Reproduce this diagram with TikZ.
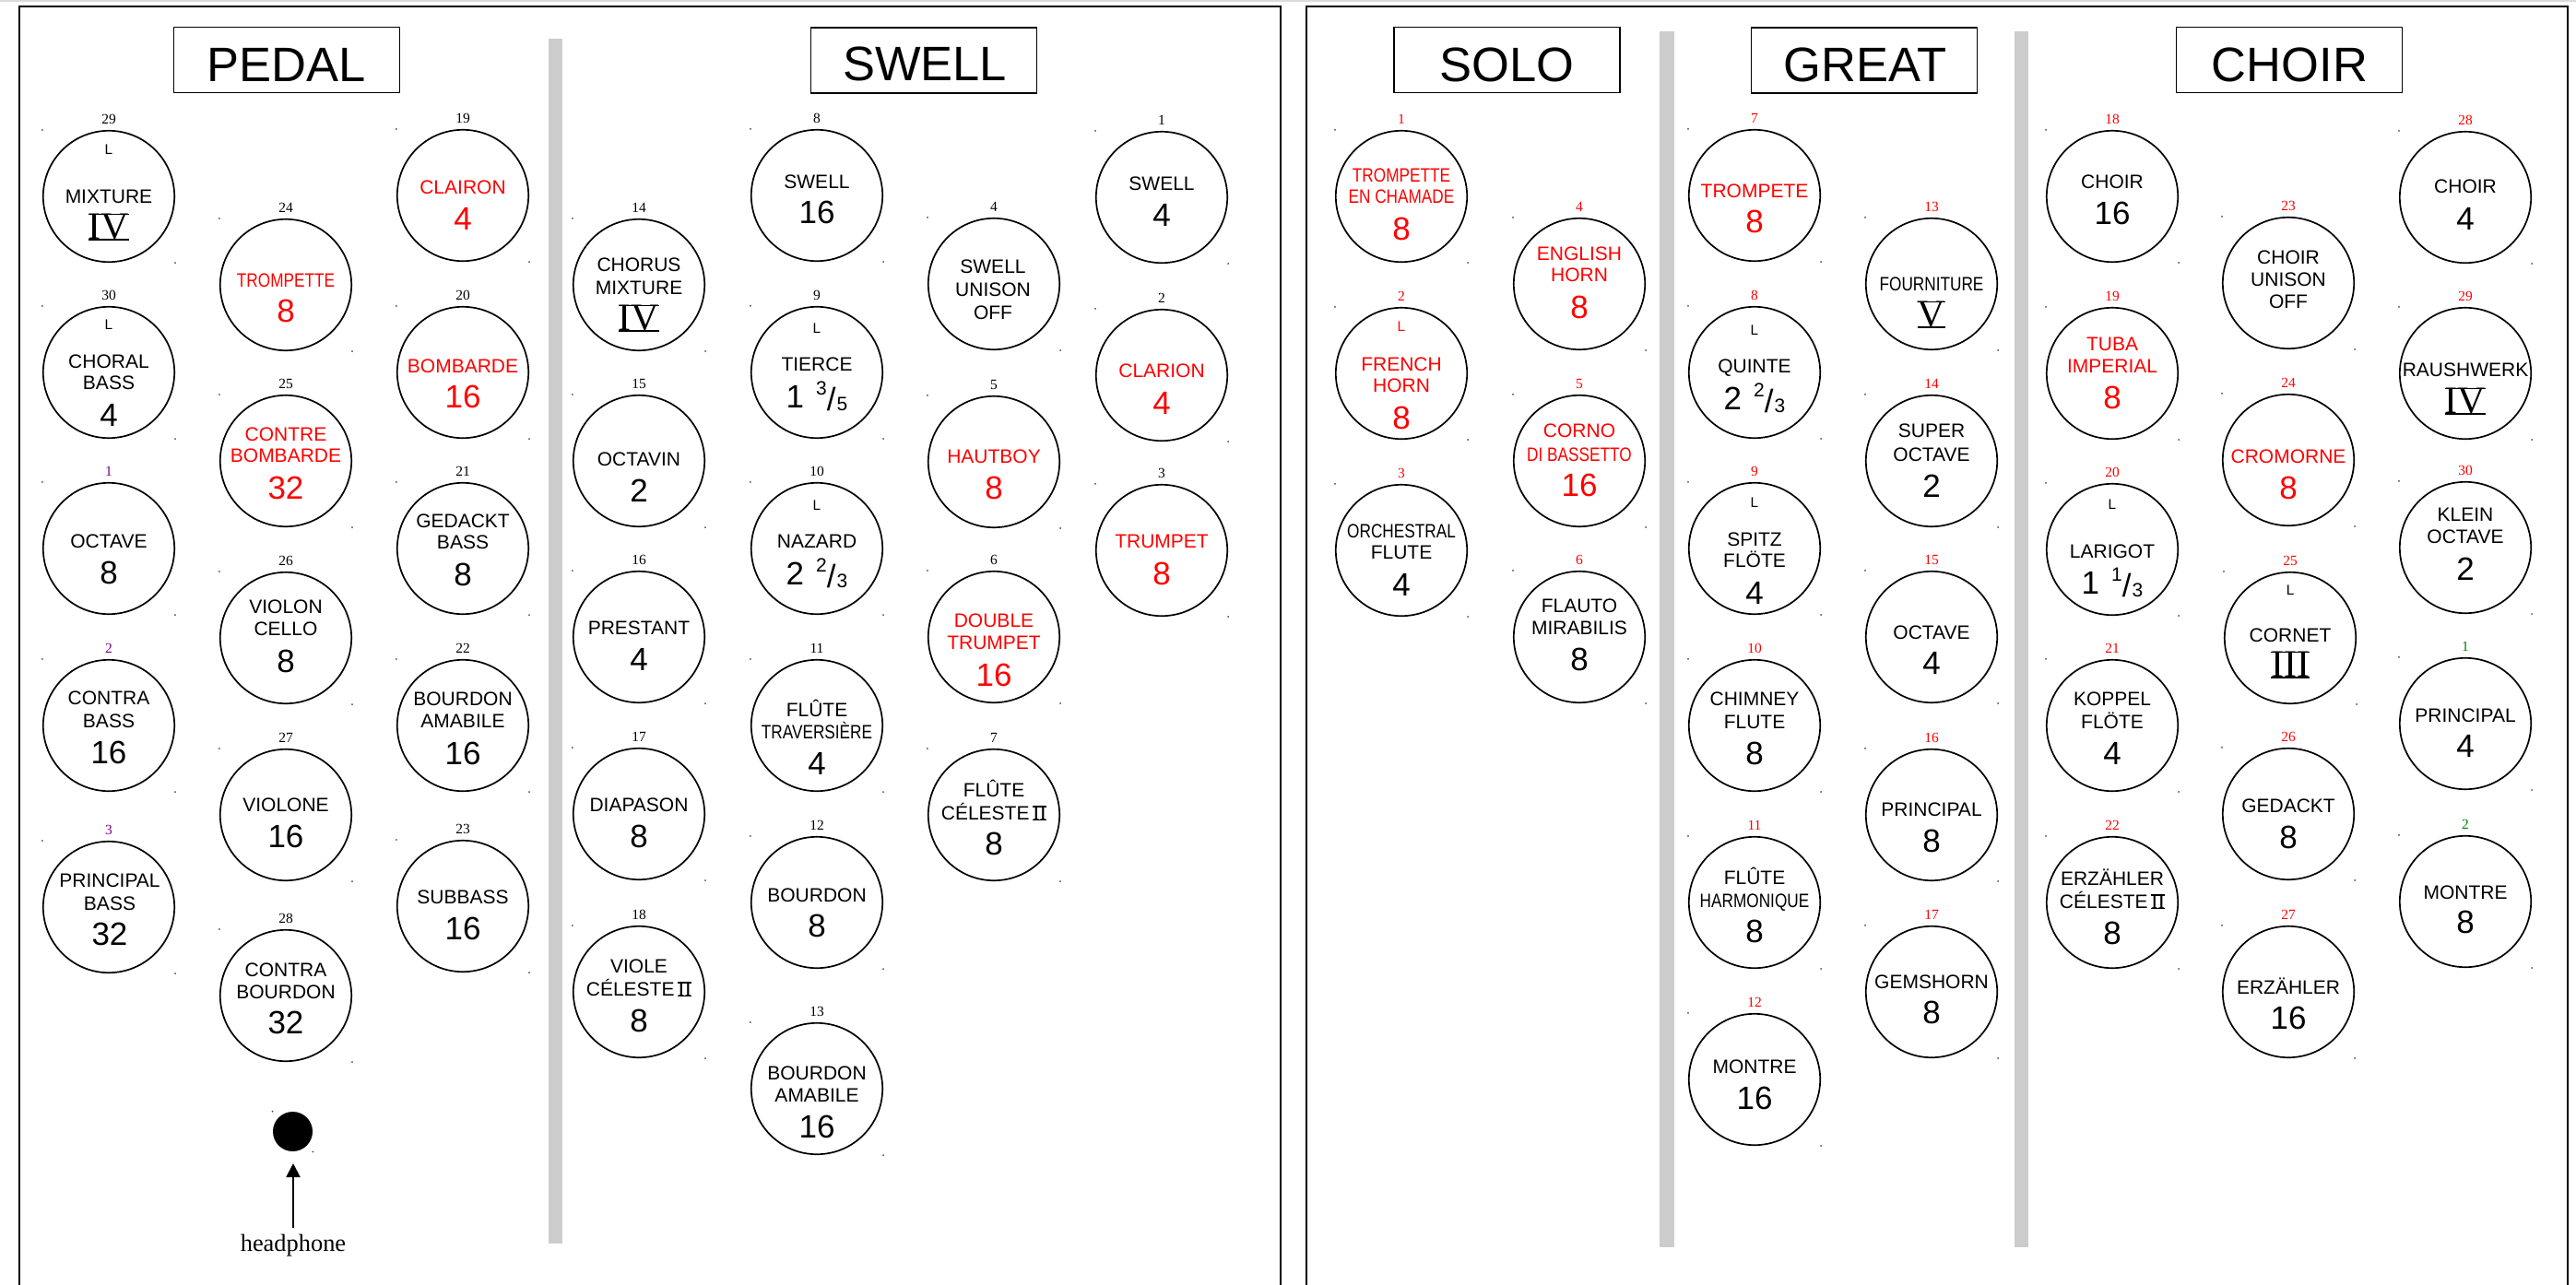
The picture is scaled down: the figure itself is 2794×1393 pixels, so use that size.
\documentclass[tikz,border=0pt]{standalone}
\usepackage{fontspec}
\setmainfont{Liberation Serif}
\newfontfamily\sansf{Liberation Sans}
\usetikzlibrary{arrows.meta}
\definecolor{stopred}{RGB}{255,0,0}
\definecolor{labpurple}{RGB}{128,0,128}
\definecolor{labgreen}{RGB}{0,128,0}
\definecolor{bargray}{RGB}{204,204,204}
\definecolor{dotc}{RGB}{70,70,70}
\definecolor{edgegray}{RGB}{218,218,218}
\newsavebox\rombox
\newcommand\barred[1]{\sbox\rombox{#1}\rlap{\rule[-0.35pt]{\wd\rombox}{0.75pt}}\rlap{\rule[\dimexpr\ht\rombox-0.4pt\relax]{\wd\rombox}{0.75pt}}\usebox\rombox}
\newcommand\smallII{\,\barred{\rmfamily\fontsize{11.3}{12}\selectfont II}}
\newcommand\frc[3]{#1\hspace{6.5pt}\raisebox{7pt}{\fontsize{10.5}{12}\selectfont #2}\raisebox{-1.5pt}{/}\kern0.6pt\raisebox{-1.5pt}{\fontsize{10.5}{12}\selectfont #3}}
\newcommand\cond[1]{\scalebox{0.82}[1]{#1}}
\newcommand\knob[5]{%
  \node[knob] (#1) at (#2,#3) {};
  \node[lab,text=#5] (#1-n) at (#2,#3-84) {#4};
  \fill[dotc] (#1.west |- #1.north) circle[radius=1];
  \fill[dotc] (#1.east |- #1.south) circle[radius=1];
}
\tikzset{
  knob/.style={circle,draw,line width=0.85pt,minimum size=71.2pt,inner sep=0pt},
  lab/.style={font=\fontsize{7.75}{8}\selectfont,inner sep=0pt,text height=5.2pt,text depth=0pt},
  nm/.style={font=\sansf\fontsize{10.5}{12}\selectfont,inner sep=0pt,text height=7.5pt,text depth=0pt},
  num/.style={font=\sansf\fontsize{17.5}{20}\selectfont,inner sep=0pt,text height=12.5pt,text depth=0pt},
  ltr/.style={font=\sansf\fontsize{7.7}{8}\selectfont,inner sep=0pt,text height=5.5pt,text depth=0pt},
  rom/.style={font=\fontsize{21}{24}\selectfont,inner sep=0pt,text height=13.9pt,text depth=0pt},
  hdrbox/.style={draw,line width=0.9pt,minimum width=122.5pt,minimum height=35.5pt,inner sep=0pt},
  hdr/.style={font=\sansf\fontsize{26.25}{30}\selectfont,inner sep=0pt,text height=18.8pt,text depth=0pt},
  frame/.style={draw,line width=1pt},
  rd/.style={text=stopred}
}
\begin{document}
\begin{tikzpicture}[x=0.5pt,y=-0.5pt]
\useasboundingbox (0,0) rectangle (2794,1393);
% faint top edge
\fill[edgegray] (0,0) rectangle (2794,1.5);
% frames
\draw[frame] (20.5,1420) -- (20.5,7) -- (1389,7) -- (1389,1420);
\draw[frame] (1417,1420) -- (1417,7) -- (2785,7) -- (2785,1420);
% grey dividers
\fill[bargray] (595,42) rectangle (610,1349);
\fill[bargray] (1800,34) rectangle (1816,1353);
\fill[bargray] (2185,34) rectangle (2200,1353);
% headers
\node[hdrbox] (hpedal) at (311,65) {};
\node[hdr] (hpedalt) at (311,69.5) {PEDAL};
\node[hdrbox] (hswell) at (1002,65.5) {};
\node[hdr] (hswellt) at (1003,69) {SWELL};
\node[hdrbox] (hsolo) at (1634.5,65) {};
\node[hdr] (hsolot) at (1634.5,69.5) {SOLO};
\node[hdrbox] (hgreat) at (2022,65.5) {};
\node[hdr] (hgreatt) at (2023,69.5) {GREAT};
\node[hdrbox] (hchoir) at (2483,65) {};
\node[hdr] (hchoirt) at (2483.5,69.5) {CHOIR};

% ================= PEDAL =================
\knob{pd29}{118}{213}{29}{black}
\node[ltr] (pd29L) at (118,162) {L};
\node[nm] (pd29a) at (118,213) {MIXTURE};
\node[rom] (pd29b) at (118,246) {\barred{IV}};
\knob{pd30}{118}{404}{30}{black}
\node[ltr] (pd30L) at (118,352) {L};
\node[nm] (pd30a) at (118,392) {CHORAL};
\node[nm] (pd30b) at (118,415) {BASS};
\node[num] (pd30c) at (118,450) {4};
\knob{pd1}{118}{595}{1}{labpurple}
\node[nm] (pd1a) at (118,587) {OCTAVE};
\node[num] (pd1c) at (118,621) {8};
\knob{pd2}{118}{787}{2}{labpurple}
\node[nm] (pd2a) at (118,757) {CONTRA};
\node[nm] (pd2b) at (118,782) {BASS};
\node[num] (pd2c) at (118,816) {16};
\knob{pd3}{118}{984}{3}{labpurple}
\node[nm] (pd3a) at (119,955) {PRINCIPAL};
\node[nm] (pd3b) at (119,980) {BASS};
\node[num] (pd3c) at (119,1013) {32};
\knob{pd24}{310}{309}{24}{black}
\node[nm,rd] (pd24a) at (310,304) {\cond{TROMPETTE}};
\node[num,rd] (pd24c) at (310,337) {8};
\knob{pd25}{310}{500}{25}{black}
\node[nm,rd] (pd25a) at (310,471) {CONTRE};
\node[nm,rd] (pd25b) at (310,494) {BOMBARDE};
\node[num,rd] (pd25c) at (310,529) {32};
\knob{pd26}{310}{692}{26}{black}
\node[nm] (pd26a) at (310,658) {VIOLON};
\node[nm] (pd26b) at (310,682) {CELLO};
\node[num] (pd26c) at (310,717) {8};
\knob{pd27}{310}{884}{27}{black}
\node[nm] (pd27a) at (310,873) {VIOLONE};
\node[num] (pd27c) at (310,907) {16};
\knob{pd28}{310}{1080}{28}{black}
\node[nm] (pd28a) at (310,1052) {CONTRA};
\node[nm] (pd28b) at (310,1076) {BOURDON};
\node[num] (pd28c) at (310,1109) {32};
\knob{pd19}{502}{212}{19}{black}
\node[nm,rd] (pd19a) at (502,203) {CLAIRON};
\node[num,rd] (pd19c) at (502,237) {4};
\knob{pd20}{502}{404}{20}{black}
\node[nm,rd] (pd20a) at (502,397) {BOMBARDE};
\node[num,rd] (pd20c) at (502,430) {16};
\knob{pd21}{502}{595}{21}{black}
\node[nm] (pd21a) at (502,565) {GEDACKT};
\node[nm] (pd21b) at (502,588) {BASS};
\node[num] (pd21c) at (502,623) {8};
\knob{pd22}{502}{787}{22}{black}
\node[nm] (pd22a) at (502,758) {BOURDON};
\node[nm] (pd22b) at (502,782) {AMABILE};
\node[num] (pd22c) at (502,817) {16};
\knob{pd23}{502}{983}{23}{black}
\node[nm] (pd23a) at (502,973) {SUBBASS};
\node[num] (pd23c) at (502,1007) {16};
% headphone
\node[circle,fill,minimum size=21.5pt,inner sep=0pt] (hp) at (317.5,1227.5) {};
\fill[dotc] (hp.west |- hp.north) circle[radius=1];
\fill[dotc] (hp.east |- hp.south) circle[radius=1];
\node[font=\fontsize{13.2}{14}\selectfont,inner sep=0pt] (hptext) at (318,1351) {headphone};
\coordinate (hptip) at (318,1262);
\draw[line width=1pt,-{Triangle[length=7.5pt,width=7.5pt]}] ([yshift=3.5pt]hptext.north) -- (hptip);

% ================= SWELL =================
\knob{sw14}{693}{309}{14}{black}
\node[nm] (sw14a) at (693,287) {CHORUS};
\node[nm] (sw14b) at (693,312) {MIXTURE};
\node[rom] (sw14c) at (693,345) {\barred{IV}};
\knob{sw15}{693}{500}{15}{black}
\node[nm] (sw15a) at (693,498) {OCTAVIN};
\node[num] (sw15c) at (693,532) {2};
\knob{sw16}{693}{691}{16}{black}
\node[nm] (sw16a) at (693,681) {PRESTANT};
\node[num] (sw16c) at (693,715) {4};
\knob{sw17}{693}{883}{17}{black}
\node[nm] (sw17a) at (693,873) {DIAPASON};
\node[num] (sw17c) at (693,907) {8};
\knob{sw18}{693}{1076}{18}{black}
\node[nm] (sw18a) at (693,1048) {VIOLE};
\node[nm] (sw18b) at (693,1073) {CÉLESTE\smallII};
\node[num] (sw18c) at (693,1107) {8};
\knob{sw8}{886}{212}{8}{black}
\node[nm] (sw8a) at (886,197) {SWELL};
\node[num] (sw8c) at (886,230) {16};
\knob{sw9}{886}{404}{9}{black}
\node[ltr] (sw9L) at (886,356) {L};
\node[nm] (sw9a) at (886,395) {TIERCE};
\node[num] (sw9c) at (886,430) {\frc{1}{3}{5}};
\knob{sw10}{886}{595}{10}{black}
\node[ltr] (sw10L) at (886,548) {L};
\node[nm] (sw10a) at (886,587) {NAZARD};
\node[num] (sw10c) at (886,622) {\frc{2}{2}{3}};
\knob{sw11}{886}{787}{11}{black}
\node[nm] (sw11a) at (886,770) {FLÛTE};
\node[nm] (sw11b) at (886,794) {\cond{TRAVERSIÈRE}};
\node[num] (sw11c) at (886,828) {4};
\knob{sw12}{886}{979}{12}{black}
\node[nm] (sw12a) at (886,971) {BOURDON};
\node[num] (sw12c) at (886,1004) {8};
\knob{sw13}{886}{1181}{13}{black}
\node[nm] (sw13a) at (886,1164) {BOURDON};
\node[nm] (sw13b) at (886,1188) {AMABILE};
\node[num] (sw13c) at (886,1222) {16};
\knob{sw4}{1078}{308}{4}{black}
\node[nm] (sw4a) at (1077,289) {SWELL};
\node[nm] (sw4b) at (1077,314) {UNISON};
\node[nm] (sw4c) at (1077,339) {OFF};
\knob{sw5}{1078}{501}{5}{black}
\node[nm,rd] (sw5a) at (1078,495) {HAUTBOY};
\node[num,rd] (sw5c) at (1078,529) {8};
\knob{sw6}{1078}{691}{6}{black}
\node[nm,rd] (sw6a) at (1078,673) {DOUBLE};
\node[nm,rd] (sw6b) at (1078,697) {TRUMPET};
\node[num,rd] (sw6c) at (1078,732) {16};
\knob{sw7}{1078}{884}{7}{black}
\node[nm] (sw7a) at (1078,857) {FLÛTE};
\node[nm] (sw7b) at (1078,882) {CÉLESTE\smallII};
\node[num] (sw7c) at (1078,915) {8};
\knob{sw1}{1260}{214}{1}{black}
\node[nm] (sw1a) at (1260,199) {SWELL};
\node[num] (sw1c) at (1260,233) {4};
\knob{sw2}{1260}{407}{2}{black}
\node[nm,rd] (sw2a) at (1260,402) {CLARION};
\node[num,rd] (sw2c) at (1260,437) {4};
\knob{sw3}{1260}{597}{3}{black}
\node[nm,rd] (sw3a) at (1260,587) {TRUMPET};
\node[num,rd] (sw3c) at (1260,622) {8};

% ================= SOLO =================
\knob{so1}{1520}{213}{1}{stopred}
\node[nm,rd] (so1a) at (1520,190) {\cond{TROMPETTE}};
\node[nm,rd] (so1b) at (1520,213) {\cond{EN CHAMADE}};
\node[num,rd] (so1c) at (1520,248) {8};
\knob{so2}{1520}{405}{2}{stopred}
\node[ltr,rd] (so2L) at (1520,354) {L};
\node[nm,rd] (so2a) at (1520,395) {FRENCH};
\node[nm,rd] (so2b) at (1520,418) {HORN};
\node[num,rd] (so2c) at (1520,453) {8};
\knob{so3}{1520}{597}{3}{stopred}
\node[nm] (so3a) at (1520,576) {\cond{ORCHESTRAL}};
\node[nm] (so3b) at (1520,599) {FLUTE};
\node[num] (so3c) at (1520,634) {4};
\knob{so4}{1713}{308}{4}{stopred}
\node[nm,rd] (so4a) at (1713,275) {ENGLISH};
\node[nm,rd] (so4b) at (1713,298) {HORN};
\node[num,rd] (so4c) at (1713,333) {8};
\knob{so5}{1713}{500}{5}{stopred}
\node[nm,rd] (so5a) at (1713,467) {CORNO};
\node[nm,rd] (so5b) at (1713,493) {\cond{DI BASSETTO}};
\node[num,rd] (so5c) at (1713,526) {16};
\knob{so6}{1713}{691}{6}{stopred}
\node[nm] (so6a) at (1713,657) {FLAUTO};
\node[nm] (so6b) at (1713,681) {MIRABILIS};
\node[num] (so6c) at (1713,715) {8};

% ================= GREAT =================
\knob{gr7}{1903}{212}{7}{stopred}
\node[nm,rd] (gr7a) at (1903,207) {TROMPETE};
\node[num,rd] (gr7c) at (1903,240) {8};
\knob{gr8}{1903}{404}{8}{stopred}
\node[ltr] (gr8L) at (1903,358) {L};
\node[nm] (gr8a) at (1903,397) {QUINTE};
\node[num] (gr8c) at (1903,432) {\frc{2}{2}{3}};
\knob{gr9}{1903}{595}{9}{stopred}
\node[ltr] (gr9L) at (1903,545) {L};
\node[nm] (gr9a) at (1903,585) {SPITZ};
\node[nm] (gr9b) at (1903,608) {FLÖTE};
\node[num] (gr9c) at (1903,643) {4};
\knob{gr10}{1903}{787}{10}{stopred}
\node[nm] (gr10a) at (1903,758) {CHIMNEY};
\node[nm] (gr10b) at (1903,783) {FLUTE};
\node[num] (gr10c) at (1903,817) {8};
\knob{gr11}{1903}{979}{11}{stopred}
\node[nm] (gr11a) at (1903,952) {FLÛTE};
\node[nm] (gr11b) at (1903,977) {\cond{HARMONIQUE}};
\node[num] (gr11c) at (1903,1010) {8};
\knob{gr12}{1903}{1171}{12}{stopred}
\node[nm] (gr12a) at (1903,1157) {MONTRE};
\node[num] (gr12c) at (1903,1191) {16};
\knob{gr13}{2095}{308}{13}{stopred}
\node[nm] (gr13a) at (2095,308) {\cond{FOURNITURE}};
\node[rom] (gr13b) at (2095,341) {\barred{V}};
\knob{gr14}{2095}{500}{14}{stopred}
\node[nm] (gr14a) at (2095,467) {SUPER};
\node[nm] (gr14b) at (2095,493) {OCTAVE};
\node[num] (gr14c) at (2095,527) {2};
\knob{gr15}{2095}{691}{15}{stopred}
\node[nm] (gr15a) at (2095,686) {OCTAVE};
\node[num] (gr15c) at (2095,719) {4};
\knob{gr16}{2095}{884}{16}{stopred}
\node[nm] (gr16a) at (2095,878) {PRINCIPAL};
\node[num] (gr16c) at (2095,912) {8};
\knob{gr17}{2095}{1076}{17}{stopred}
\node[nm] (gr17a) at (2095,1065) {GEMSHORN};
\node[num] (gr17c) at (2095,1098) {8};

% ================= CHOIR =================
\knob{ch18}{2291}{213}{18}{stopred}
\node[nm] (ch18a) at (2291,197) {CHOIR};
\node[num] (ch18c) at (2291,231) {16};
\knob{ch19}{2291}{405}{19}{stopred}
\node[nm,rd] (ch19a) at (2291,373) {TUBA};
\node[nm,rd] (ch19b) at (2291,397) {IMPERIAL};
\node[num,rd] (ch19c) at (2291,431) {8};
\knob{ch20}{2291}{596}{20}{stopred}
\node[ltr] (ch20L) at (2291,547) {L};
\node[nm] (ch20a) at (2291,598) {LARIGOT};
\node[num] (ch20c) at (2291,632) {\frc{1}{1}{3}};
\knob{ch21}{2291}{787}{21}{stopred}
\node[nm] (ch21a) at (2291,758) {KOPPEL};
\node[nm] (ch21b) at (2291,783) {FLÖTE};
\node[num] (ch21c) at (2291,817) {4};
\knob{ch22}{2291}{979}{22}{stopred}
\node[nm] (ch22a) at (2291,953) {ERZÄHLER};
\node[nm] (ch22b) at (2291,978) {CÉLESTE\smallII};
\node[num] (ch22c) at (2291,1012) {8};
\knob{ch23}{2482}{307}{23}{stopred}
\node[nm] (ch23a) at (2482,279) {CHOIR};
\node[nm] (ch23b) at (2482,303) {UNISON};
\node[nm] (ch23c) at (2482,327) {OFF};
\knob{ch24}{2482}{499}{24}{stopred}
\node[nm,rd] (ch24a) at (2482,495) {CROMORNE};
\node[num,rd] (ch24c) at (2482,529) {8};
\knob{ch25}{2484}{692}{25}{stopred}
\node[ltr] (ch25L) at (2484,640) {L};
\node[nm] (ch25a) at (2484,689) {CORNET};
\node[rom] (ch25b) at (2484,721) {\barred{III}};
\knob{ch26}{2482}{883}{26}{stopred}
\node[nm] (ch26a) at (2482,874) {GEDACKT};
\node[num] (ch26c) at (2482,908) {8};
\knob{ch27}{2482}{1076}{27}{stopred}
\node[nm] (ch27a) at (2482,1071) {ERZÄHLER};
\node[num] (ch27c) at (2482,1104) {16};
\knob{ch28}{2674}{214}{28}{stopred}
\node[nm] (ch28a) at (2674,202) {CHOIR};
\node[num] (ch28c) at (2674,237) {4};
\knob{ch29}{2674}{405}{29}{stopred}
\node[nm] (ch29a) at (2674,401) {RAUSHWERK};
\node[rom] (ch29b) at (2674,435) {\barred{IV}};
\knob{ch30}{2674}{594}{30}{stopred}
\node[nm] (ch30a) at (2674,558) {KLEIN};
\node[nm] (ch30b) at (2674,582) {OCTAVE};
\node[num] (ch30c) at (2674,617) {2};
\knob{ch1}{2674}{785}{1}{labgreen}
\node[nm] (ch1a) at (2674,776) {PRINCIPAL};
\node[num] (ch1c) at (2674,809) {4};
\knob{ch2}{2674}{978}{2}{labgreen}
\node[nm] (ch2a) at (2674,968) {MONTRE};
\node[num] (ch2c) at (2674,1000) {8};
\end{tikzpicture}
\end{document}
